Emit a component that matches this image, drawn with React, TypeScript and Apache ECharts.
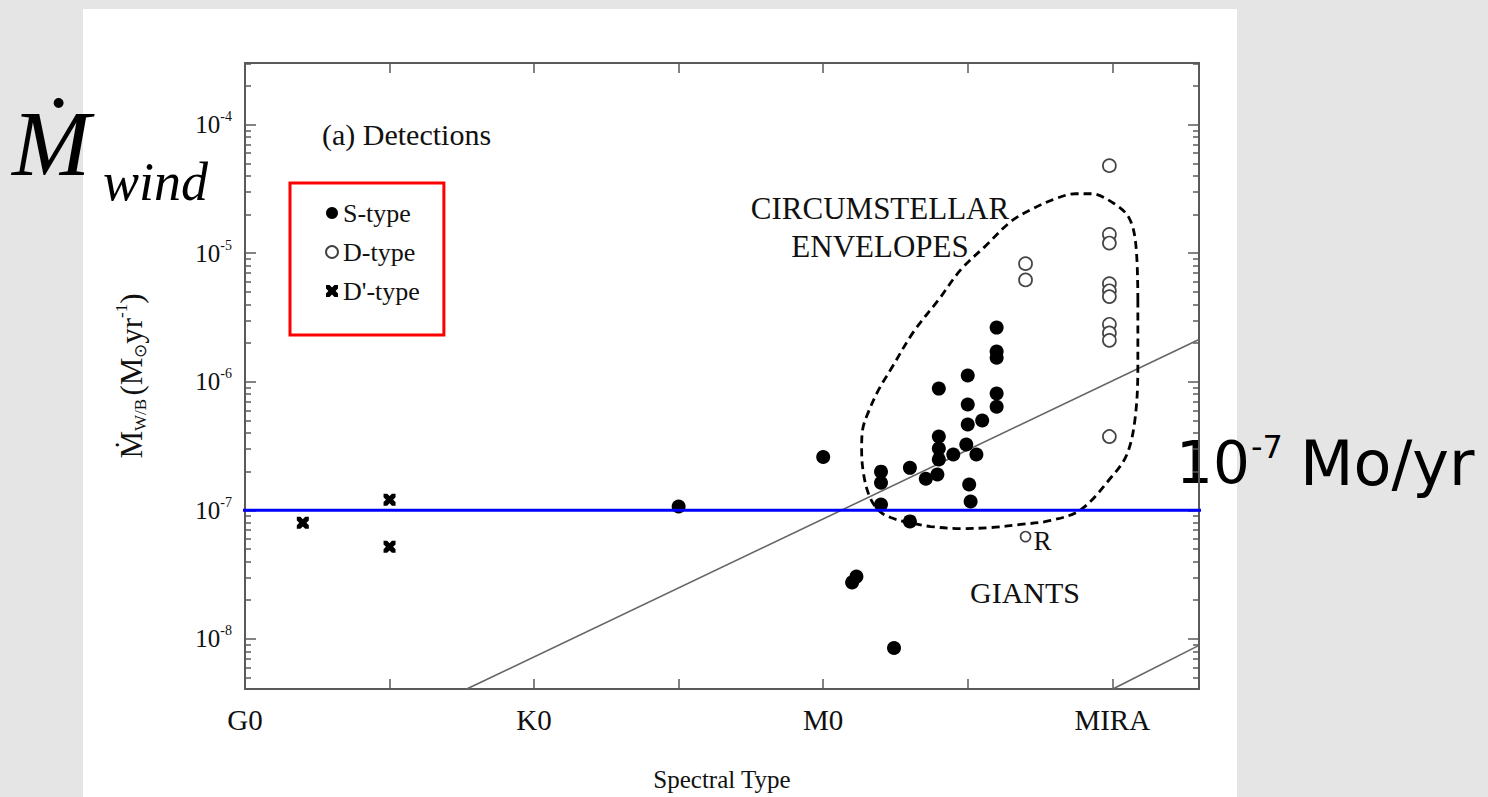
import React, { useEffect, useRef } from "react";
import * as echarts from "echarts";

const SERIF = '"Liberation Serif", "Times New Roman", serif';
const SANS = '"DejaVu Sans", sans-serif';

// Spectral type axis: G0 = 0, one unit per half class
const spectralLabelPositions = [0, 2, 4, 6];
const spectralLabels = ["G0", "K0", "M0", "MIRA"];
const spectralTickPositions = [0, 1, 2, 3, 4, 5, 6];
const rateDecades = [-8, -7, -6, -5, -4];

// S-type detections (filled dots)
const sTypeSpectral = [3.0, 4.0, 4.2, 4.23, 4.49, 4.4, 4.4, 4.4, 4.6, 4.6, 4.71, 4.8, 4.8, 4.8, 4.8, 4.79, 4.9, 5.0, 5.0, 5.0, 4.99, 5.06, 5.01, 5.02, 5.1, 5.2, 5.2, 5.2, 5.2, 5.2];
const sTypeRate = [1.07e-7, 2.6e-7, 2.75e-8, 3.05e-8, 8.5e-9, 2.0e-7, 1.64e-7, 1.11e-7, 2.14e-7, 8.2e-8, 1.76e-7, 8.85e-7, 3.75e-7, 3.03e-7, 2.49e-7, 1.9e-7, 2.72e-7, 1.12e-6, 6.65e-7, 4.65e-7, 3.25e-7, 2.72e-7, 1.59e-7, 1.17e-7, 5.0e-7, 2.64e-6, 1.72e-6, 1.54e-6, 8.1e-7, 6.4e-7];

// D-type detections (open circles)
const dTypeSpectral = [5.98, 5.98, 5.98, 5.98, 5.98, 5.98, 5.98, 5.98, 5.98, 5.98, 5.4, 5.4];
const dTypeRate = [4.8e-5, 1.4e-5, 1.2e-5, 5.8e-6, 5.1e-6, 4.6e-6, 2.8e-6, 2.4e-6, 2.1e-6, 3.75e-7, 8.3e-6, 6.2e-6];
const rStarSpectral = 5.4;
const rStarRate = 6.25e-8;

// D'-type detections (crosses)
const dPrimeSpectral = [0.4, 1.0, 1.0];
const dPrimeRate = [8.0e-8, 1.21e-7, 5.2e-8];

// Reference lines
const giantLineSpectral = [1.53, 6.6];
const giantLineRate = [4.05e-9, 2.13e-6];
const miraLineSpectral = [6.0, 6.6];
const miraLineRate = [4.05e-9, 8.9e-9];
const thresholdRate = 1e-7;
const thresholdSpan = [-0.06, 8.62];

// Circumstellar envelope outline (spectral position, log10 rate)
const envelopeSpectral = [6.177, 6.177, 6.157, 6.101, 5.997, 5.783, 5.575, 5.367, 5.159, 4.952, 4.744, 4.591, 4.467, 4.384, 4.321, 4.28, 4.266, 4.273, 4.314, 4.384, 4.467, 4.626, 4.799, 4.952, 5.125, 5.298, 5.436, 5.609, 5.748, 5.852, 6.004, 6.115, 6.163, 6.177];
const envelopeLogRate = [-5.361, -5.882, -6.294, -6.566, -6.737, -6.994, -7.079, -7.11, -7.134, -7.142, -7.126, -7.095, -7.056, -7.002, -6.893, -6.722, -6.527, -6.372, -6.232, -6.061, -5.905, -5.61, -5.361, -5.128, -4.941, -4.754, -4.661, -4.575, -4.537, -4.537, -4.607, -4.723, -4.933, -5.361];

const X_MIN = 0;
const X_MAX = 6.6;
const Y_MIN = -8.39;
const Y_MAX = -3.52;

const lg = (v: number) => Math.log10(v);
const pairs = (xs: number[], ys: number[]) => xs.map((x, i) => [x, lg(ys[i])]);

const minorLogTicks: number[] = [];
for (let d = -9; d <= -4; d++) {
  for (let k = 2; k <= 9; k++) {
    const v = d + Math.log10(k);
    if (v > Y_MIN && v < Y_MAX) minorLogTicks.push(v);
  }
}

const FRAME = "#5a5a5a";
const INK = "#111";

const crossPath =
  "path://M0,0L3,0L5,2L7,0L10,0L10,3L8,5L10,7L10,10L7,10L5,8L3,10L0,10L0,7L2,5L0,3Z";

function yAxisBase(position: "left" | "right", major: boolean, withLine: boolean) {
  return {
    type: "value",
    position,
    min: Y_MIN,
    max: Y_MAX,
    splitLine: { show: false },
    axisLine: { show: withLine, lineStyle: { color: FRAME, width: 2 } },
    axisTick: {
      show: true,
      inside: true,
      length: major ? 11 : 6,
      customValues: major ? rateDecades : minorLogTicks,
      lineStyle: { color: FRAME, width: 1.5 },
    },
    axisLabel: { show: false },
  };
}

export default function App() {
  const ref = useRef<HTMLDivElement>(null);

  useEffect(() => {
    const chart = echarts.init(ref.current!, null, { renderer: "svg" });

    const leftMajor: any = yAxisBase("left", true, true);
    leftMajor.axisLabel = {
      show: true,
      customValues: rateDecades,
      margin: 13,
      formatter: (v: number) => `{b|10}{s|${Math.round(v)}}`,
      rich: {
        b: { fontFamily: SERIF, fontSize: 25, color: INK, lineHeight: 30 },
        s: { fontFamily: SERIF, fontSize: 14, color: INK, verticalAlign: "top", lineHeight: 14 },
      },
    };
    leftMajor.name = "{m|Ṁ}{sub|W/B} {m|(M}{sub|⊙}{m|yr}{sup|-1}{m|)}";
    leftMajor.nameLocation = "middle";
    leftMajor.nameRotate = 90;
    leftMajor.nameGap = 96;
    leftMajor.nameTextStyle = {
      rich: {
        m: { fontFamily: SERIF, fontSize: 31, color: INK, lineHeight: 36 },
        sub: { fontFamily: SERIF, fontSize: 17, color: INK, verticalAlign: "bottom", lineHeight: 19 },
        sup: { fontFamily: SERIF, fontSize: 17, color: INK, verticalAlign: "top", lineHeight: 19 },
      },
    };

    const option: any = {
      animation: false,
      backgroundColor: "#e5e5e5",
      grid: { left: 245, top: 63, right: 289, bottom: 107, containLabel: false },
      legend: {
        data: ["S-type", "D-type", "D'-type"],
        orient: "vertical",
        left: 290,
        top: 183,
        padding: [17, 24, 31, 35],
        itemGap: 13,
        itemWidth: 12,
        itemHeight: 12,
        borderColor: "#ff0000",
        borderWidth: 3,
        textStyle: { fontFamily: SERIF, fontSize: 26, color: INK },
      },
      xAxis: [
        {
          type: "value",
          position: "bottom",
          min: X_MIN,
          max: X_MAX,
          splitLine: { show: false },
          axisLine: { show: true, lineStyle: { color: FRAME, width: 2 } },
          axisTick: {
            show: true,
            inside: true,
            length: 10,
            customValues: spectralTickPositions,
            lineStyle: { color: FRAME, width: 1.5 },
          },
          axisLabel: {
            customValues: spectralLabelPositions,
            margin: 16,
            fontFamily: SERIF,
            fontSize: 29,
            color: INK,
            formatter: (v: number) => spectralLabels[spectralLabelPositions.indexOf(Math.round(v))] ?? "",
          },
          name: "Spectral Type",
          nameLocation: "middle",
          nameGap: 78,
          nameTextStyle: { fontFamily: SERIF, fontSize: 25, color: INK },
        },
        {
          type: "value",
          position: "top",
          min: X_MIN,
          max: X_MAX,
          splitLine: { show: false },
          axisLine: { show: true, lineStyle: { color: FRAME, width: 2 } },
          axisTick: {
            show: true,
            inside: true,
            length: 10,
            customValues: spectralTickPositions,
            lineStyle: { color: FRAME, width: 1.5 },
          },
          axisLabel: { show: false },
        },
      ],
      yAxis: [
        leftMajor,
        yAxisBase("left", false, false),
        yAxisBase("right", true, true),
        yAxisBase("right", false, false),
      ],
      series: [
        {
          name: "envelope",
          type: "line",
          data: envelopeSpectral.map((x, i) => [x, envelopeLogRate[i]]),
          smooth: 0.35,
          symbol: "none",
          clip: false,
          lineStyle: { color: "#000", width: 2.8, type: [8, 5] },
          z: 3,
        },
        {
          name: "giant boundary",
          type: "line",
          data: pairs(giantLineSpectral, giantLineRate),
          symbol: "none",
          lineStyle: { color: "#666", width: 1.6 },
          z: 2,
        },
        {
          name: "mira boundary",
          type: "line",
          data: pairs(miraLineSpectral, miraLineRate),
          symbol: "none",
          lineStyle: { color: "#666", width: 1.6 },
          z: 2,
        },
        {
          name: "threshold",
          type: "line",
          data: thresholdSpan.map((x) => [x, lg(thresholdRate)]),
          symbol: "none",
          clip: false,
          lineStyle: { color: "#0000ff", width: 3 },
          z: 6,
        },
        {
          name: "S-type",
          type: "scatter",
          data: pairs(sTypeSpectral, sTypeRate),
          symbol: "circle",
          symbolSize: 14,
          itemStyle: { color: "#000", opacity: 1 },
          z: 5,
        },
        {
          name: "D-type",
          type: "scatter",
          data: [
            ...pairs(dTypeSpectral, dTypeRate),
            {
              value: [rStarSpectral, lg(rStarRate)],
              symbolSize: 10,
              label: {
                show: true,
                formatter: "R",
                position: "right",
                distance: 2,
                offset: [0, 4],
                fontFamily: SERIF,
                fontSize: 27,
                color: INK,
              },
            },
          ],
          symbol: "circle",
          symbolSize: 13,
          itemStyle: { color: "#fff", borderColor: "#444", borderWidth: 1.7, opacity: 1 },
          z: 5,
        },
        {
          name: "D'-type",
          type: "scatter",
          data: pairs(dPrimeSpectral, dPrimeRate),
          symbol: crossPath,
          symbolSize: 12,
          itemStyle: { color: "#000", opacity: 1 },
          z: 5,
        },
      ],
      graphic: [
        {
          type: "rect",
          z: -10,
          silent: true,
          shape: { x: 83, y: 9, width: 1154, height: 788 },
          style: { fill: "#ffffff" },
        },
        {
          type: "text",
          x: 322,
          y: 134,
          style: { text: "(a) Detections", fontFamily: SERIF, fontSize: 30, fill: INK, verticalAlign: "middle" },
        },
        {
          type: "text",
          x: 880,
          y: 208,
          style: { text: "CIRCUMSTELLAR", fontFamily: SERIF, fontSize: 31, fill: INK, align: "center", verticalAlign: "middle" },
        },
        {
          type: "text",
          x: 880,
          y: 246,
          style: { text: "ENVELOPES", fontFamily: SERIF, fontSize: 31, fill: INK, align: "center", verticalAlign: "middle" },
        },
        {
          type: "text",
          x: 1025,
          y: 592,
          style: { text: "GIANTS", fontFamily: SERIF, fontSize: 30, fill: INK, align: "center", verticalAlign: "middle" },
        },
        {
          type: "text",
          x: 12,
          y: 190,
          style: { text: "Ṁ", fontFamily: SERIF, fontStyle: "italic", fontSize: 94, fill: "#000", verticalAlign: "bottom" },
        },
        {
          type: "text",
          x: 103,
          y: 209,
          style: { text: "wind", fontFamily: SERIF, fontStyle: "italic", fontSize: 54, fill: "#000", verticalAlign: "bottom" },
        },
        {
          type: "text",
          x: 1176,
          y: 492,
          style: { text: "10", fontFamily: SANS, fontSize: 58, fill: "#000", verticalAlign: "bottom" },
        },
        {
          type: "text",
          x: 1251,
          y: 431,
          style: { text: "-7", fontFamily: SANS, fontSize: 32, fill: "#000", verticalAlign: "top" },
        },
        {
          type: "text",
          x: 1300,
          y: 494,
          style: { text: "Mo/yr", fontFamily: SANS, fontSize: 62, fill: "#000", verticalAlign: "bottom" },
        },
      ],
    };

    chart.setOption(option);
    return () => chart.dispose();
  }, []);

  return (
    <div
      ref={ref}
      style={{ position: "absolute", left: 0, top: 0, width: 1488, height: 797 }}
    />
  );
}
